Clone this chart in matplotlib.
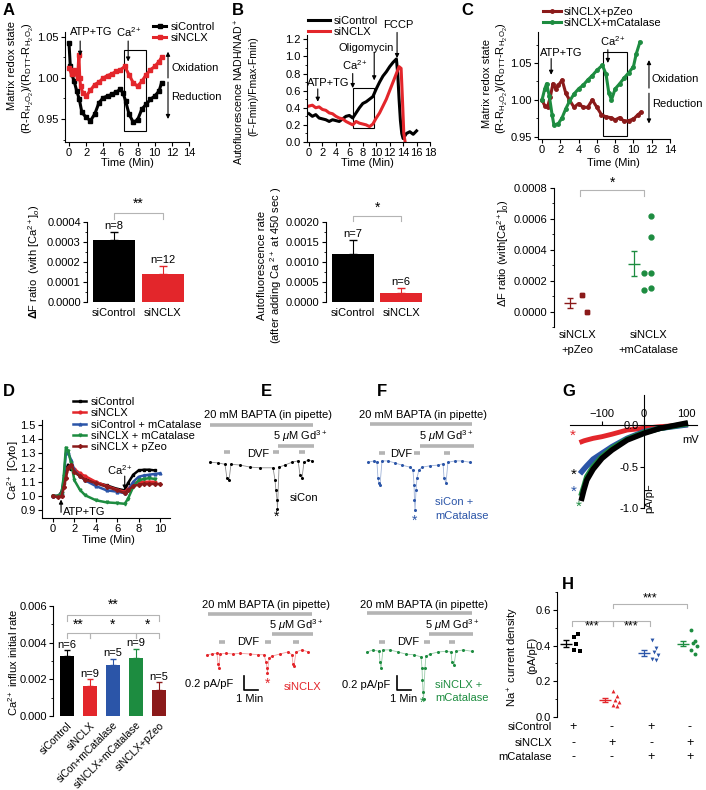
import matplotlib
matplotlib.use('Agg')
import matplotlib.pyplot as plt
from matplotlib.patches import Rectangle
from matplotlib.ticker import MultipleLocator, FormatStrFormatter

plt.rcParams['font.family'] = ['Liberation Sans', 'DejaVu Sans']
plt.rcParams['mathtext.fontset'] = 'custom'
plt.rcParams['mathtext.rm'] = 'Liberation Sans'
plt.rcParams['mathtext.it'] = 'Liberation Sans:italic'
plt.rcParams['mathtext.bf'] = 'Liberation Sans:bold'
plt.rcParams['axes.linewidth'] = 0.8

BLACK = '#000000'
RED = '#e3262b'
BLUE = '#2b55a8'
GREEN = '#1d8c40'
DRED = '#8b1a1a'
GREY = '#b4b4b4'

# ---- A: matrix redox state
a_t_ctrl = [0, 0.15, 0.3, 0.6, 0.9, 1.2, 1.5, 2.0, 2.5, 3.0, 3.5, 4.0, 4.5, 5.0, 5.5, 6.0,
            6.3, 6.6, 7.0, 7.5, 8.0, 8.5, 9.0, 9.5, 10.0, 10.5, 10.8]
a_ctrl = [1.042, 1.014, 1.005, 0.996, 0.984, 0.974, 0.958, 0.952, 0.948, 0.956, 0.970, 0.976,
          0.978, 0.980, 0.983, 0.986, 0.982, 0.972, 0.956, 0.946, 0.949, 0.962, 0.968, 0.974,
          0.978, 0.984, 0.994]
a_t_nclx = [0, 0.3, 0.6, 1.0, 1.15, 1.25, 1.35, 1.6, 2.0, 2.5, 3.0, 3.5, 4.0, 4.5, 5.0, 5.5,
            6.0, 6.5, 7.0, 7.5, 8.0, 8.5, 9.0, 9.5, 10.0, 10.5, 10.8]
a_nclx = [1.012, 1.005, 1.010, 1.000, 1.028, 1.000, 0.990, 0.982, 0.978, 0.985, 0.992, 0.995,
          1.000, 1.003, 1.005, 1.008, 1.010, 1.014, 1.004, 0.994, 0.990, 0.996, 1.004, 1.010,
          1.014, 1.020, 1.025]
a_groups = ['siControl', 'siNCLX']
a_bar = [0.00031, 0.00014]
a_err = [0.00004, 0.00004]
a_n = ['n=8', 'n=12']

# ---- B: NADH autofluorescence
b_t_ctrl = [0, 0.5, 1, 1.5, 2, 2.5, 3, 3.5, 4, 4.5, 5, 5.5, 6, 6.5, 7, 7.5, 8, 8.5, 9, 9.5,
            10, 10.5, 11, 11.5, 12, 12.5, 13, 13.2, 13.4, 13.6, 13.8, 14, 14.5, 15, 15.5, 16]
b_ctrl = [0.33, 0.30, 0.32, 0.28, 0.27, 0.26, 0.24, 0.26, 0.25, 0.24, 0.27, 0.30, 0.31, 0.28,
          0.34, 0.40, 0.45, 0.47, 0.50, 0.53, 0.62, 0.70, 0.77, 0.82, 0.88, 0.93, 0.97, 0.80,
          0.50, 0.25, 0.10, 0.04, 0.10, 0.12, 0.09, 0.13]
b_t_nclx = [0, 0.5, 1, 1.5, 2, 2.5, 3, 3.5, 4, 4.5, 5, 5.5, 6, 6.5, 7, 7.5, 8, 8.5, 9, 9.5,
            10, 10.5, 11, 11.5, 12, 12.5, 13, 13.4, 13.7, 13.9, 14.1, 14.3]
b_nclx = [0.42, 0.43, 0.40, 0.41, 0.38, 0.37, 0.34, 0.33, 0.30, 0.28, 0.27, 0.24, 0.22, 0.20,
          0.24, 0.22, 0.21, 0.20, 0.18, 0.21, 0.28, 0.34, 0.42, 0.50, 0.60, 0.70, 0.80, 0.88,
          0.86, 0.50, 0.10, 0.00]
b_groups = ['siControl', 'siNCLX']
b_bar = [0.00120, 0.00023]
b_err = [0.00036, 0.00012]
b_n = ['n=7', 'n=6']

# ---- C: redox with catalase
c_t_pz = [0, 0.3, 0.6, 0.9, 1.2, 1.5, 1.8, 2.2, 2.6, 3.0, 3.5, 4.0, 4.5, 5.0, 5.5, 6.0, 6.5,
          7.0, 7.5, 8.0, 8.5, 9.0, 9.5, 10.0, 10.5, 10.8]
c_pz = [1.000, 0.992, 0.990, 1.004, 1.022, 1.015, 1.020, 1.027, 1.009, 1.000, 0.990, 0.995,
        0.990, 0.990, 1.000, 0.990, 0.980, 0.977, 0.976, 0.973, 0.976, 0.971, 0.972, 0.974,
        0.980, 0.983]
c_t_cat = [0, 0.3, 0.5, 0.8, 1.1, 1.3, 1.8, 2.2, 2.6, 3.0, 3.5, 4.0, 4.5, 5.0, 5.5, 6.0, 6.6,
           7.0, 7.3, 7.6, 8.0, 8.5, 9.0, 9.5, 10.0, 10.3, 10.7]
c_cat = [1.000, 1.015, 1.022, 1.005, 0.980, 0.966, 0.968, 0.976, 0.988, 0.998, 1.008, 1.015,
         1.020, 1.027, 1.033, 1.040, 1.047, 1.035, 1.010, 1.000, 1.015, 1.022, 1.030, 1.037,
         1.045, 1.062, 1.078]
c_groups = ['siNCLX\n+pZeo', 'siNCLX\n+mCatalase']
c_pz_pts = [0.00011, 0.00011, 0.0, 0.0]
c_cat_pts = [0.00025, 0.00014, 0.00062, 0.00048, 0.00025, 0.00015]
c_mean = [0.000055, 0.00031]
c_sem = [0.00003, 0.00008]

# ---- D: cytosolic Ca2+
d_t = [0, 0.5, 0.8, 1.0, 1.2, 1.4, 1.7, 2.0, 2.5, 3, 4, 5, 6, 6.7, 7.0, 7.5, 8, 8.5, 9, 9.5]
d_t10 = d_t + [10.0]
d_ctrl = [1.0, 1.0, 1.03, 1.09, 1.17, 1.22, 1.19, 1.17, 1.14, 1.12, 1.095, 1.075, 1.05, 1.04,
          1.09, 1.15, 1.18, 1.185, 1.185, 1.18]
d_nclx = [1.0, 1.0, 1.0, 1.06, 1.13, 1.20, 1.22, 1.19, 1.16, 1.14, 1.10, 1.07, 1.045, 1.03,
          1.05, 1.09, 1.10, 1.10, 1.10, 1.10]
d_ctrlcat = [1.0, 1.0, 1.02, 1.12, 1.30, 1.31, 1.25, 1.18, 1.14, 1.11, 1.07, 1.04, 1.03, 1.02,
             1.04, 1.10, 1.135, 1.145, 1.15, 1.155, 1.16]
d_nclxcat = [1.0, 1.0, 1.02, 1.14, 1.34, 1.32, 1.23, 1.11, 1.045, 1.005, 0.97, 0.955, 0.95,
             0.945, 0.98, 1.065, 1.11, 1.12, 1.125, 1.12]
d_pzeo = [1.0, 0.99, 1.0, 1.06, 1.13, 1.20, 1.22, 1.17, 1.14, 1.115, 1.09, 1.065, 1.04, 1.02,
          1.04, 1.07, 1.08, 1.085, 1.085, 1.085, 1.085]
d_groups = ['siControl', 'siNCLX', 'siCon+mCatalase', 'siNCLX+mCatalase', 'siNCLX+pZeo']
d_bar = [0.0033, 0.00166, 0.00278, 0.00318, 0.00143]
d_err = [0.00028, 0.00035, 0.00035, 0.00048, 0.00042]
d_n = ['n=6', 'n=9', 'n=5', 'n=9', 'n=5']

# ---- E/F: patch-clamp traces (min, pA/pF)
e1_t = [0, 0.57, 1.07, 1.21, 1.36, 1.5, 2.14, 2.86, 3.57, 4.5, 4.64, 4.71, 4.79, 4.82, 4.93,
        5.36, 5.86, 6.29, 6.43, 6.57, 6.71, 7.0, 7.29]
e1_i = [0.04, 0.03, 0.01, -0.19, -0.21, 0.01, 0.0, -0.03, -0.04, -0.04, -0.21, -0.36, -0.5,
        -0.63, -0.03, 0.0, 0.04, 0.06, -0.14, -0.19, 0.04, 0.07, 0.06]
f1_t = [0, 0.43, 0.64, 0.71, 0.79, 0.86, 1.0, 1.43, 1.93, 2.43, 3.0, 3.21, 3.29, 3.32, 3.36,
        3.43, 3.5, 3.64, 3.86, 4.43, 5.0, 5.36, 5.43, 5.57, 5.71, 6.21, 6.71, 7.29]
f1_i = [0.01, 0.03, 0.01, -0.21, -0.29, -0.31, 0.03, 0.03, 0.0, -0.03, -0.06, -0.1, -0.31,
        -0.53, -0.67, -0.39, -0.21, -0.1, -0.06, -0.04, -0.03, -0.01, -0.21, -0.29, 0.01,
        0.03, 0.03, 0.01]
e2_t = [0, 0.36, 0.71, 0.79, 0.86, 0.93, 1.36, 1.86, 2.36, 3.07, 3.64, 4.07, 4.21, 4.29, 4.32,
        4.43, 4.64, 5.21, 5.79, 6.07, 6.14, 6.21, 6.36, 6.79, 7.21]
e2_i = [-0.01, 0.0, 0.01, -0.14, -0.2, 0.0, 0.01, 0.0, 0.01, 0.0, -0.01, -0.01, -0.11, -0.2,
        -0.27, -0.06, -0.03, 0.0, 0.03, -0.01, -0.14, -0.17, 0.03, 0.06, 0.03]
f2_t = [0, 0.43, 0.86, 0.93, 1.0, 1.14, 1.64, 2.21, 2.79, 3.36, 3.86, 3.93, 3.96, 4.0, 4.04,
        4.14, 4.21, 4.5, 5.07, 5.64, 6.0, 6.07, 6.21, 6.36, 6.86, 7.5]
f2_i = [0.0, 0.03, 0.01, -0.14, -0.23, 0.03, 0.03, 0.0, -0.03, -0.04, -0.07, -0.23, -0.4,
        -0.57, -0.67, -0.23, -0.06, -0.03, 0.0, 0.01, 0.0, -0.14, -0.19, 0.01, 0.03, 0.01]
e1_bapta, e1_gd, e1_dvf = (0.0, 7.36), (4.86, 7.43), [1.21, 4.71, 6.57]
f1_bapta, f1_gd, f1_dvf = (0.14, 7.43), (3.71, 7.57), [1.0, 3.5, 5.64]
e2_bapta, e2_gd, e2_dvf = (0.07, 7.5), (4.64, 7.57), [1.07, 4.36, 6.36]
f2_bapta, f2_gd, f2_dvf = (0.0, 7.5), (4.43, 7.57), [1.07, 4.29, 6.07]

# ---- G: I-V curves
g_v = [-148, -143, -136, -121, -100, -76, -40, 0, 38, 98]
g_ctrl = [-0.88, -0.78, -0.66, -0.53, -0.40, -0.30, -0.18, -0.10, -0.04, 0.02]
g_nclx = [-0.20, -0.19, -0.18, -0.16, -0.14, -0.11, -0.06, -0.04, -0.02, 0.0]
g_ctrlcat = [-0.56, -0.53, -0.49, -0.41, -0.34, -0.26, -0.16, -0.08, -0.04, 0.0]
g_nclxcat = [-0.82, -0.74, -0.62, -0.50, -0.38, -0.28, -0.17, -0.09, -0.04, 0.01]

# ---- H: Na+ current density
h_pts = [[0.45, 0.465, 0.41, 0.37, 0.375],
         [0.145, 0.115, 0.095, 0.085, 0.07, 0.06],
         [0.43, 0.385, 0.365, 0.345, 0.325, 0.32],
         [0.485, 0.425, 0.415, 0.395, 0.375, 0.355]]
h_mean = [0.41, 0.095, 0.36, 0.41]
h_sem = [0.02, 0.013, 0.017, 0.014]
h_rows = ['siControl', 'siNCLX', 'mCatalase']
h_signs = [['+', '-', '+', '-'], ['-', '+', '-', '+'], ['-', '-', '+', '+']]

W, H = 706, 790
fig = plt.figure(figsize=(W / 100, H / 100), dpi=100)


def add_ax(l, t, r, b):
    return fig.add_axes([l / W, 1 - b / H, (r - l) / W, (b - t) / H])


def ftext(x, y, s, **kw):
    kw.setdefault('ha', 'center')
    kw.setdefault('va', 'center')
    kw.setdefault('fontsize', 8)
    fig.text(x / W, 1 - y / H, s, **kw)


def style(ax):
    ax.spines['top'].set_visible(False)
    ax.spines['right'].set_visible(False)
    ax.tick_params(labelsize=8, length=3, width=0.8, pad=1.5)
    ax.tick_params(which='minor', length=1.8, width=0.6)


def arrow(ax, x, y0, y1, lw=0.8):
    ax.annotate('', xy=(x, y1), xytext=(x, y0), annotation_clip=False,
                arrowprops=dict(arrowstyle='-|>', color='k', lw=lw, mutation_scale=6,
                                shrinkA=0, shrinkB=0))


def bracket(ax, x1, x2, y, drop, label, ty, fs=10):
    ax.plot([x1, x1, x2, x2], [y - drop, y, y, y - drop], color=GREY, lw=0.8, clip_on=False)
    ax.text((x1 + x2) / 2, ty, label, ha='center', va='center', fontsize=fs, clip_on=False)


def letter(x, y, s):
    ftext(x, y, s, ha='left', va='top', fontsize=12, fontweight='bold')


# ================= A top
ax = add_ax(65, 32, 189, 142)
style(ax)
ax.plot(a_t_ctrl, a_ctrl, '-s', color=BLACK, lw=2.2, ms=2.5, label='siControl')
ax.plot(a_t_nclx, a_nclx, '-s', color=RED, lw=2.2, ms=2.5, label='siNCLX')
ax.set_xlim(-0.47, 14)
ax.set_ylim(0.922, 1.056)
ax.set_xticks(range(0, 15, 2))
ax.set_yticks([0.95, 1.00, 1.05])
ax.yaxis.set_major_formatter(FormatStrFormatter('%.2f'))
ax.yaxis.set_minor_locator(MultipleLocator(0.025))
ax.add_patch(Rectangle((6.4, 0.936), 2.6, 0.098, fill=False, lw=0.8, ec='k'))
arrow(ax, 1.3, 1.045, 1.027)
ax.text(2.6, 1.056, 'ATP+TG', ha='center', va='center', fontsize=8, clip_on=False)
arrow(ax, 6.9, 1.045, 1.020)
ax.text(7.0, 1.056, 'Ca$^{2+}$', ha='center', va='center', fontsize=8, clip_on=False)
arrow(ax, 11.55, 1.000, 1.032)
arrow(ax, 11.55, 0.995, 0.950)
ax.text(11.9, 1.012, 'Oxidation', fontsize=8, va='center', clip_on=False)
ax.text(11.9, 0.977, 'Reduction', fontsize=8, va='center', clip_on=False)
ax.legend(loc='upper left', bbox_to_anchor=(153 / W, 1 - 22 / H), bbox_transform=fig.transFigure,
          frameon=False, fontsize=8, handlelength=1.2, handletextpad=0.4, labelspacing=0.05,
          borderpad=0, borderaxespad=0)
ftext(127, 163, 'Time (Min)')
ftext(12, 66, 'Matrix redox state', rotation=90)
ftext(28, 78, r'(R-R$_{\mathrm{H_2O_2}}$)/(R$_{\mathrm{DTT}}$-R$_{\mathrm{H_2O_2}}$)', rotation=90)
letter(3, 3, 'A')

# ================= A bottom
ax = add_ax(87, 222, 190, 302)
style(ax)
ax.spines['bottom'].set_visible(False)
xs = range(len(a_groups))
ax.bar(xs, a_bar, width=0.86, color=[BLACK, RED])
for i in xs:
    c = [BLACK, RED][i]
    ax.errorbar(i, a_bar[i], yerr=[[0], [a_err[i]]], fmt='none', ecolor=c, capsize=3, lw=0.8)
    ax.text(i, a_bar[i] + a_err[i] + 0.000004, a_n[i], ha='center', va='bottom', fontsize=8)
ax.set_xlim(-0.55, 1.55)
ax.set_ylim(0, 0.0004)
ax.set_yticks([0, 0.0001, 0.0002, 0.0003, 0.0004])
ax.yaxis.set_major_formatter(FormatStrFormatter('%.4f'))
ax.yaxis.set_minor_locator(MultipleLocator(0.00005))
ax.set_xticks(list(xs))
ax.set_xticklabels(a_groups)
ax.tick_params(axis='x', length=0, pad=4)
bracket(ax, 0, 1, 0.000445, 0.00003, '**', 0.00049)
ftext(34, 262, r'$\mathbf{\Delta}$F ratio  (with [Ca$^{2+}$]$_o$)', rotation=90)

# ================= B top
ax = add_ax(307, 35, 430, 142)
style(ax)
ax.plot(b_t_ctrl, b_ctrl, '-', color=BLACK, lw=2.2, label='siControl')
ax.plot(b_t_nclx, b_nclx, '-', color=RED, lw=2.2, label='siNCLX')
ax.set_xlim(-0.3, 18)
ax.set_ylim(0, 1.25)
ax.set_xticks(range(0, 19, 2))
ax.set_yticks([0, 0.2, 0.4, 0.6, 0.8, 1.0, 1.2])
ax.yaxis.set_major_formatter(FormatStrFormatter('%.1f'))
ax.yaxis.set_minor_locator(MultipleLocator(0.1))
ax.add_patch(Rectangle((6.5, 0.16), 3.2, 0.47, fill=False, lw=0.8, ec='k'))
arrow(ax, 1.3, 0.62, 0.47)
ax.text(2.8, 0.69, 'ATP+TG', ha='center', va='center', fontsize=8)
arrow(ax, 6.5, 0.80, 0.63)
ax.text(6.8, 0.90, 'Ca$^{2+}$', ha='center', va='center', fontsize=8)
arrow(ax, 9.7, 1.05, 0.72)
ax.text(8.5, 1.10, 'Oligomycin', ha='center', va='center', fontsize=8)
arrow(ax, 13.1, 1.28, 0.98)
ax.text(13.3, 1.37, 'FCCP', ha='center', va='center', fontsize=8, clip_on=False)
ax.legend(loc='upper left', bbox_to_anchor=(308 / W, 1 - 16 / H), bbox_transform=fig.transFigure,
          frameon=False, fontsize=8, handlelength=2.0, handletextpad=0.3, labelspacing=0.05,
          borderpad=0, borderaxespad=0)
ftext(367, 163, 'Time (Min)')
ftext(239, 92, 'Autofluorescence NADH/NAD$^+$', rotation=90, fontsize=7.6)
ftext(253, 86, '(F-Fmin)/Fmax-Fmin)', rotation=90, fontsize=7.6)
letter(232, 3, 'B')

# ================= B bottom
ax = add_ax(326, 222, 430, 302)
style(ax)
ax.spines['bottom'].set_visible(False)
xs = range(len(b_groups))
ax.bar(xs, b_bar, width=0.88, color=[BLACK, RED])
for i in xs:
    c = [BLACK, RED][i]
    ax.errorbar(i, b_bar[i], yerr=[[0], [b_err[i]]], fmt='none', ecolor=c, capsize=3, lw=0.8)
    ax.text(i, b_bar[i] + b_err[i] + 0.00002, b_n[i], ha='center', va='bottom', fontsize=8)
ax.set_xlim(-0.56, 1.6)
ax.set_ylim(0, 0.002)
ax.set_yticks([0, 0.0005, 0.001, 0.0015, 0.002])
ax.yaxis.set_major_formatter(FormatStrFormatter('%.4f'))
ax.yaxis.set_minor_locator(MultipleLocator(0.00025))
ax.set_xticks(list(xs))
ax.set_xticklabels(b_groups)
ax.tick_params(axis='x', length=0, pad=4)
bracket(ax, 0, 1, 0.00215, 0.00012, '*', 0.00236)
ftext(262, 265, 'Autofluorescence rate', rotation=90)
ftext(276, 265, '(after adding Ca $^{2+}$ at 450 sec )', rotation=90)

# ================= C top
ax = add_ax(538, 32, 670, 139)
style(ax)
ax.plot(c_t_pz, c_pz, '-o', color=DRED, lw=2.2, ms=2.5, label='siNCLX+pZeo')
ax.plot(c_t_cat, c_cat, '-o', color=GREEN, lw=2.2, ms=2.5, label='siNCLX+mCatalase')
ax.set_xlim(-0.44, 14)
ax.set_ylim(0.947, 1.092)
ax.set_xticks(range(0, 15, 2))
ax.set_yticks([0.95, 1.00, 1.05])
ax.yaxis.set_major_formatter(FormatStrFormatter('%.2f'))
ax.yaxis.set_minor_locator(MultipleLocator(0.025))
ax.add_patch(Rectangle((6.7, 0.951), 2.6, 0.114, fill=False, lw=0.8, ec='k'))
arrow(ax, 1.0, 1.056, 1.034)
ax.text(2.1, 1.0635, 'ATP+TG', ha='center', va='center', fontsize=8)
arrow(ax, 7.2, 1.068, 1.050)
ax.text(7.8, 1.079, 'Ca$^{2+}$', ha='center', va='center', fontsize=8)
arrow(ax, 11.7, 1.016, 1.054)
arrow(ax, 11.7, 1.009, 0.968)
ax.text(12.0, 1.028, 'Oxidation', fontsize=8, va='center', clip_on=False)
ax.text(12.0, 0.995, 'Reduction', fontsize=8, va='center', clip_on=False)
ax.legend(loc='upper left', bbox_to_anchor=(543 / W, 1 - 7 / H), bbox_transform=fig.transFigure,
          frameon=False, fontsize=8, handlelength=1.6, handletextpad=0.3, labelspacing=0.05,
          borderpad=0, borderaxespad=0)
ftext(613, 163, 'Time (Min)')
ftext(487, 83, 'Matrix redox state', rotation=90)
ftext(502, 78, r'(R-R$_{\mathrm{H_2O_2}}$)/(R$_{\mathrm{DTT}}$-R$_{\mathrm{H_2O_2}}$)', rotation=90)
letter(461, 3, 'C')

# ================= C bottom
ax = add_ax(554, 188, 700, 327)
style(ax)
ax.spines['bottom'].set_visible(False)
ax.plot([0.06, 0.06, 0.14, 0.14], c_pz_pts, 's', color=DRED, ms=3.2)
ax.plot([0.94, 0.94, 1.04, 1.04, 1.04, 1.04], c_cat_pts, 'o', color=GREEN, ms=3.5)
for i, (xm, c) in enumerate([(-0.1, DRED), (0.8, GREEN)]):
    ax.errorbar(xm, c_mean[i], yerr=c_sem[i], fmt='_', color=c, ms=9, mew=1,
                capsize=2.5, lw=0.9)
ax.set_xlim(-0.33, 1.73)
ax.set_ylim(-0.0001, 0.0008)
ax.set_yticks([0, 0.0002, 0.0004, 0.0006, 0.0008])
ax.yaxis.set_major_formatter(FormatStrFormatter('%.4f'))
ax.yaxis.set_minor_locator(MultipleLocator(0.0001))
ax.set_xticks([0, 1])
ax.set_xticklabels(c_groups, linespacing=1.6)
ax.tick_params(axis='x', length=0, pad=2)
bracket(ax, 0.04, 0.94, 0.000787, 0.00004, '*', 0.000835)
ftext(503, 253, r'$\Delta$F ratio (with[Ca$^{2+}$]$_0$)', rotation=90)

# ================= D top
ax = add_ax(42, 420, 170, 518)
style(ax)
ax.plot(d_t, d_ctrl, '-s', color=BLACK, lw=1.8, ms=2, label='siControl')
ax.plot(d_t, d_nclx, '-o', color=RED, lw=1.8, ms=2, label='siNCLX')
ax.plot(d_t10, d_ctrlcat, '-^', color=BLUE, lw=1.8, ms=2, label='siControl + mCatalase')
ax.plot(d_t, d_nclxcat, '-v', color=GREEN, lw=1.8, ms=2, label='siNCLX + mCatalase')
ax.plot(d_t10, d_pzeo, '-D', color=DRED, lw=1.8, ms=2, label='siNCLX + pZeo')
ax.set_xlim(-1.03, 10.93)
ax.set_ylim(0.845, 1.535)
ax.set_xticks(range(0, 11, 2))
ax.set_yticks([0.9, 1.0, 1.1, 1.2, 1.3, 1.4, 1.5])
ax.yaxis.set_major_formatter(FormatStrFormatter('%.1f'))
arrow(ax, 0.75, 0.885, 0.975)
ax.text(0.95, 0.89, 'ATP+TG', ha='left', va='center', fontsize=8)
arrow(ax, 6.7, 1.14, 1.045)
ax.text(6.3, 1.18, 'Ca$^{2+}$', ha='center', va='center', fontsize=8)
ax.legend(loc='upper left', bbox_to_anchor=(73 / W, 1 - 397 / H), bbox_transform=fig.transFigure,
          frameon=False, fontsize=8, handlelength=1.2, handletextpad=0.4, labelspacing=0.12,
          borderpad=0, borderaxespad=0)
ftext(108, 540, 'Time (Min)')
ftext(13, 470, 'Ca$^{2+}$ [Cyto]', rotation=90)
letter(3, 384, 'D')

# ================= D bottom
ax = add_ax(53, 606, 170, 716)
style(ax)
ax.spines['bottom'].set_visible(False)
d_cols = [BLACK, RED, BLUE, GREEN, DRED]
xs = range(len(d_groups))
ax.bar(xs, d_bar, width=0.57, color=d_cols)
for i in xs:
    ax.errorbar(i, d_bar[i], yerr=[[0], [d_err[i]]], fmt='none', ecolor=d_cols[i], capsize=2.5,
                lw=0.8)
    ax.text(i, d_bar[i] + d_err[i] + 0.00003, d_n[i], ha='center', va='bottom', fontsize=8)
ax.set_xlim(-0.61, 4.48)
ax.set_ylim(0, 0.006)
ax.set_yticks([0, 0.002, 0.004, 0.006])
ax.yaxis.set_major_formatter(FormatStrFormatter('%.3f'))
ax.yaxis.set_minor_locator(MultipleLocator(0.001))
ax.set_xticks(list(xs))
ax.set_xticklabels(d_groups, rotation=45, ha='right', rotation_mode='anchor', fontsize=7.4)
ax.tick_params(axis='x', length=0, pad=3)
bracket(ax, 0, 4, 0.0055, 0.0003, '**', 0.00605)
bracket(ax, 0, 1, 0.00453, 0.0003, '**', 0.00498)
bracket(ax, 1, 3, 0.00453, 0.0003, '*', 0.00498)
bracket(ax, 3, 4, 0.00453, 0.0003, '*', 0.00498)
ftext(13, 662, 'Ca$^{2+}$ influx initial rate', rotation=90)

# ================= E / F traces
PXM = 14.0   # px per minute
PXI = 70.0   # px per pA/pF


def trace_ax(x0, y0, l, t, r, b):
    a = add_ax(l, t, r, b)
    a.set_xlim((l - x0) / PXM, (r - x0) / PXM)
    a.set_ylim((y0 - b) / PXI, (y0 - t) / PXI)
    a.axis('off')
    return a


def treatments(a, y0, bapta, gd, dvf, pyb, pyg, pyd):
    a.plot(bapta, [(y0 - pyb) / PXI] * 2, color=GREY, lw=2.6, solid_capstyle='butt')
    a.plot(gd, [(y0 - pyg) / PXI] * 2, color=GREY, lw=2.6, solid_capstyle='butt')
    for d in dvf:
        a.plot([d - 0.2, d + 0.2], [(y0 - pyd) / PXI] * 2, color=GREY, lw=2.6,
               solid_capstyle='butt')


def trace(a, t, i, c):
    a.plot(t, i, '-', color=c, lw=0.6, alpha=0.45)
    a.plot(t, i, 'o', color=c, ms=2.2, mew=0)


def scalebar(a, x0, y0, xs_px, ys_px):
    a.plot([(xs_px - x0) / PXM] * 2 + [(xs_px - x0) / PXM + 1.0],
           [(y0 - ys_px) / PXI + 0.2, (y0 - ys_px) / PXI, (y0 - ys_px) / PXI],
           color='k', lw=1.2)


# E top
ax = trace_ax(210, 465, 200, 400, 345, 530)
treatments(ax, 465, e1_bapta, e1_gd, e1_dvf, 425, 446, 452)
trace(ax, e1_t, e1_i, BLACK)
ftext(268, 415, '20 mM BAPTA (in pipette)')
ftext(300, 436, r'5 $\mu$M Gd$^{3+}$')
ftext(258, 454, 'DVF')
ftext(304, 498, 'siCon')
ftext(277, 517, '*', fontsize=10)
letter(261, 384, 'E')

# F top
ax = trace_ax(368, 463, 355, 400, 490, 530)
treatments(ax, 463, f1_bapta, f1_gd, f1_dvf, 424, 446, 453)
trace(ax, f1_t, f1_i, BLUE)
ftext(423, 415, '20 mM BAPTA (in pipette)')
ftext(446, 436, r'5 $\mu$M Gd$^{3+}$')
ftext(401, 454, 'DVF')
ftext(435, 502, 'siCon +', ha='left', color=BLUE)
ftext(435, 516, 'mCatalase', ha='left', color=BLUE)
ftext(415, 521, '*', fontsize=10, color=BLUE)
letter(377, 384, 'F')

# E bottom
ax = trace_ax(207, 654, 195, 595, 340, 715)
treatments(ax, 654, e2_bapta, e2_gd, e2_dvf, 614, 634, 642)
trace(ax, e2_t, e2_i, RED)
scalebar(ax, 207, 654, 244, 690)
ftext(266, 605, '20 mM BAPTA (in pipette)')
ftext(296, 625, r'5 $\mu$M Gd$^{3+}$')
ftext(248, 642, 'DVF')
ftext(303, 687, 'siNCLX', color=RED)
ftext(268, 684, '*', fontsize=10, color=RED)
ftext(233, 684, '0.2 pA/pF', ha='right')
ftext(250, 699, '1 Min')

# F bottom
ax = trace_ax(367, 652, 340, 595, 490, 715)
treatments(ax, 652, f2_bapta, f2_gd, f2_dvf, 613, 634, 642)
trace(ax, f2_t, f2_i, GREEN)
scalebar(ax, 367, 652, 397, 690)
ftext(424, 605, '20 mM BAPTA (in pipette)')
ftext(452, 625, r'5 $\mu$M Gd$^{3+}$')
ftext(408, 642, 'DVF')
ftext(435, 685, 'siNCLX +', ha='left', color=GREEN)
ftext(435, 698, 'mCatalase', ha='left', color=GREEN)
ftext(423, 703, '*', fontsize=10, color=GREEN)
ftext(390, 685, '0.2 pA/pF', ha='right')
ftext(404, 699, '1 Min')

# ================= G: I-V
ax = add_ax(570, 395, 697, 510)
ax.plot(g_v, g_nclx, '-', color=RED, lw=3.5, zorder=1)
ax.plot(g_v, g_ctrlcat, '-', color=BLUE, lw=4, zorder=1)
ax.plot(g_v, g_nclxcat, '-', color=GREEN, lw=4, zorder=1)
ax.plot(g_v, g_ctrl, '-', color=BLACK, lw=4, zorder=1)
ax.set_xlim(-176, 126)
ax.set_ylim(-1.02, 0.36)
ax.spines['right'].set_visible(False)
ax.spines['bottom'].set_visible(False)
ax.spines['top'].set_position(('data', 0))
ax.spines['left'].set_position(('data', 0))
ax.spines['left'].set_bounds(-1.0, 0.36)
ax.xaxis.set_ticks_position('top')
ax.set_xticks([-100, 0, 100])
ax.set_yticks([-1.0, -0.5, 0.0])
ax.yaxis.set_major_formatter(FormatStrFormatter('%.1f'))
ax.tick_params(labelsize=8, length=3, width=0.8, pad=1)
ax.text(110, -0.18, 'mV', fontsize=8, ha='center', va='center')
ax.text(12, -0.88, 'pA/pF', fontsize=8, rotation=90, ha='center', va='center')
ax.text(-170, -0.13, '*', color=RED, fontsize=11, ha='center', va='center')
ax.text(-167, -0.6, '*', color=BLACK, fontsize=11, ha='center', va='center')
ax.text(-167, -0.8, '*', color=BLUE, fontsize=11, ha='center', va='center')
ax.text(-155, -0.98, '*', color=GREEN, fontsize=11, ha='center', va='center')
letter(562, 384, 'G')

# ================= H
ax = add_ax(557, 592, 706, 717)
style(ax)
ax.spines['bottom'].set_visible(False)
h_cols = [BLACK, RED, BLUE, GREEN]
h_mk = ['s', '^', 'v', 'o']
h_off = [0.05, 0.15, 0.1, 0.2, 0.05, 0.15]
for g in range(4):
    xs_g = [g + h_off[k] for k in range(len(h_pts[g]))]
    ax.plot(xs_g, h_pts[g], h_mk[g], color=h_cols[g], ms=2.8, mew=0)
    ax.errorbar(g - 0.15, h_mean[g], yerr=h_sem[g], fmt='_', color=h_cols[g], ms=8, mew=1,
                capsize=2, lw=0.9)
ax.set_xlim(-0.38, 3.44)
ax.set_ylim(0, 0.7)
ax.set_yticks([0, 0.2, 0.4, 0.6])
ax.yaxis.set_major_formatter(FormatStrFormatter('%.1f'))
ax.yaxis.set_minor_locator(MultipleLocator(0.1))
ax.set_xticks([])
bracket(ax, 0.0, 1.05, 0.535, 0.025, '***', 0.505, fs=9)
bracket(ax, 1.05, 2.0, 0.535, 0.025, '***', 0.505, fs=9)
bracket(ax, 1.05, 2.95, 0.635, 0.025, '***', 0.665, fs=9)
for r, name in enumerate(h_rows):
    py = [727, 743, 757][r]
    ftext(552, py, name, ha='right')
    for g in range(4):
        ftext(573 + 39 * g, py, h_signs[r][g], fontsize=9)
ftext(513, 657, 'Na$^+$ current density', rotation=90)
ftext(532, 655, '(pA/pF)', rotation=90)
letter(562, 577, 'H')

fig.savefig('out.png', dpi=100)
